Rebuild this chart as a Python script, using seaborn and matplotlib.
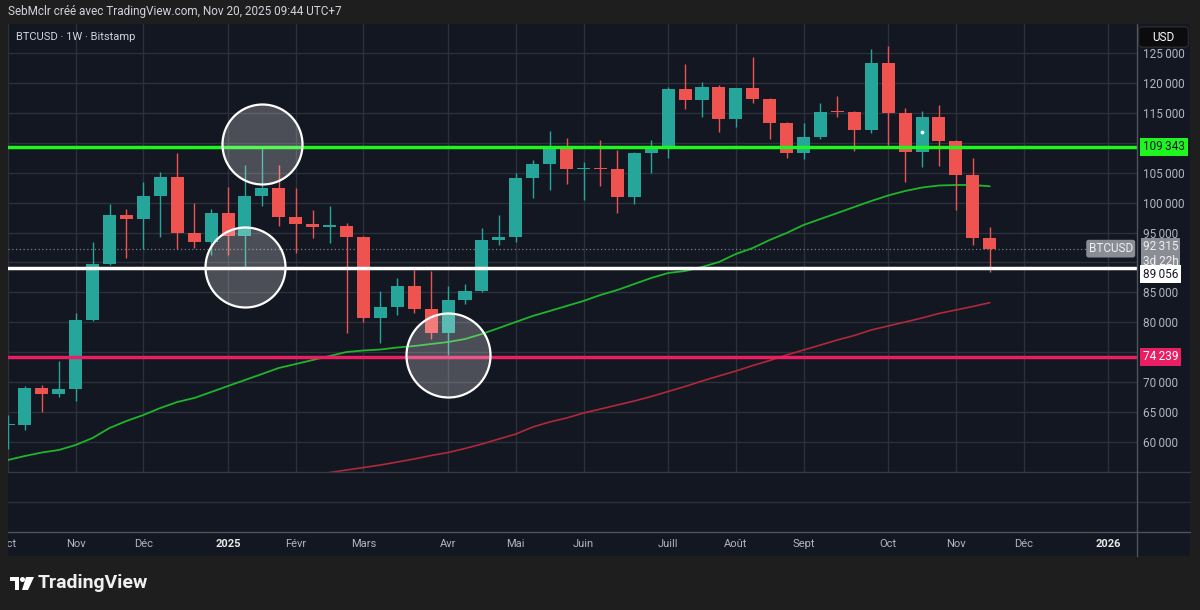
import matplotlib
matplotlib.use("Agg")
import matplotlib.pyplot as plt
import matplotlib.patches as mpatches
from matplotlib.lines import Line2D
import numpy as np
import pandas as pd
import seaborn as sns

# weekly BTCUSD candles (Bitstamp), first week = Mon 7 Oct 2024
opens = [62800, 62850, 68970, 67960, 68800, 80400, 89750, 97940, 97220, 101110,
         104340, 94985, 93480, 98330, 94430, 101170, 102400, 97650, 96430, 96000,
         96150, 94210, 80670, 82510, 86070, 82230, 78270, 83730, 85240, 93760,
         94320, 104070, 106410, 109090, 105580, 105740, 105560, 100990, 108250, 109250,
         118950, 117170, 119400, 114030, 119220, 117390, 113370, 108250, 111040, 115300,
         115150, 112140, 123400, 115040, 108520, 114370, 110360, 104620, 94150]
highs = [64500, 69400, 69500, 73600, 81560, 93480, 99730, 98900, 103500, 105070,
         108250, 99900, 98900, 102680, 106300, 109300, 106300, 102400, 98770, 99440,
         96540, 94500, 85240, 87360, 88750, 88580, 86070, 86410, 95820, 97940,
         104900, 107100, 111980, 110760, 106750, 110470, 108800, 108500, 110470, 119400,
         123130, 120220, 119670, 119220, 124400, 117560, 113540, 113260, 116700, 117830,
         115300, 125630, 126180, 115870, 115320, 116270, 110470, 107420, 95880]
lows = [58900, 62000, 65070, 67520, 66900, 80200, 89580, 90700, 92200, 94310,
        92200, 92370, 91250, 91250, 89300, 99440, 96100, 91540, 94140, 93300,
        78160, 80100, 76600, 81220, 81500, 77170, 74540, 83060, 85100, 92920,
        93400, 100730, 102120, 103070, 100450, 102790, 98220, 99730, 105010, 107420,
        115600, 114370, 111860, 112600, 116700, 110590, 107420, 107250, 110590, 114370,
        108640, 111590, 109640, 103500, 106010, 106180, 98770, 92920, 88460]
closes = [62850, 68970, 67960, 68800, 80400, 89750, 97940, 97220, 101110, 104340,
          94985, 93480, 98330, 94430, 101170, 102400, 97650, 96430, 96000, 96150,
          94210, 80670, 82510, 86070, 82230, 78270, 83730, 85240, 93760, 94320,
          104070, 106410, 109090, 105580, 105740, 105560, 100990, 108250, 109250, 118950,
          117170, 119400, 114030, 119220, 117390, 113370, 108250, 111040, 115200, 115150,
          112140, 123400, 115040, 108520, 114370, 110360, 104620, 94150, 92315]

# moving averages
green_ma = [56990, 57660, 58240, 58660, 59500, 60670, 62340, 63510, 64510, 65680,
            66680, 67350, 68350, 69360, 70360, 71360, 72370, 73030, 73700, 74370,
            75040, 75290, 75460, 75790, 76040, 76380, 76710, 77210, 78050, 79050,
            80060, 81060, 81890, 82730, 83570, 84570, 85400, 86410, 87410, 88240,
            88580, 89250, 90080, 91420, 92420, 93760, 94930, 96270, 97270, 98270,
            99280, 100280, 101200, 101950, 102530, 102870, 102950, 102950, 102740]
red_start = 19
red_ma = [54900, 55320, 55730, 56150, 56650, 57160, 57740, 58240, 58910, 59660,
          60500, 61330, 62500, 63340, 64010, 64840, 65510, 66180, 66850, 67600,
          68440, 69270, 70190, 71030, 71860, 72780, 73620, 74540, 75370, 76210,
          77050, 77800, 78720, 79390, 80060, 80720, 81480, 82060, 82650, 83280]

levels = [109343, 89056, 74239]
level_colors = ["#1ff51f", "#ffffff", "#e91e63"]
level_text = ["#131722", "#131722", "#ffffff"]
last_price = 92315

circles_x = [15, 14, 26]
circles_y = [109840, 89300, 74540]
circles_r = [40, 40, 42]

price_ticks = list(range(60000, 130000, 5000))
month_names = {1: "2025", 2: "Févr", 3: "Mars", 4: "Avr", 5: "Mai", 6: "Juin", 7: "Juill",
               8: "Août", 9: "Sept", 10: "Oct", 11: "Nov", 12: "Déc"}

sns.set_theme(style="dark")
plt.rcParams["font.family"] = ["Roboto", "DejaVu Sans"]

BG = "#131722"
GRID = "#2c303b"
TXT = "#b2b5be"
TEAL = "#26a69a"
RED = "#ef5350"
W, H = 1200, 610

fig = plt.figure(figsize=(12, 6.1), dpi=100)
fig.patch.set_facecolor("#1e1e1e")


def fr(x0, y0, x1, y1):
    return [x0 / W, 1 - y1 / H, (x1 - x0) / W, (y1 - y0) / H]


def fmt(v):
    return f"{v:,}".replace(",", "\u2009")


# panel background
fig.add_artist(mpatches.Rectangle((8 / W, 1 - 556 / H), (1190 - 8) / W, (556 - 24) / H,
                                  transform=fig.transFigure, facecolor=BG, edgecolor="none", zorder=0))

ax = fig.add_axes(fr(8, 24, 1137, 472))
ax.set_facecolor(BG)
ax.set_xlim(0.047, 66.7)
ax.set_ylim(54983, 129861)

# month gridlines
all_weeks = pd.date_range("2024-10-07", "2026-01-31", freq="W-MON")
month_idx = [i for i in range(len(all_weeks)) if i == 0 or all_weeks[i].month != all_weeks[i - 1].month]
month_lab = ["Oct" if all_weeks[i].year == 2024 and all_weeks[i].month == 10 else
             ("2026" if all_weeks[i].year == 2026 else month_names[all_weeks[i].month]) for i in month_idx]

# tick labels hidden behind the price tags
covered = levels + [last_price]
ax.set_xticks(month_idx)
ax.set_yticks(price_ticks)
ax.set_yticklabels(["" if min(abs(v - c) for c in covered) < 2500 else fmt(v) for v in price_ticks])
ax.yaxis.tick_right()
ax.tick_params(axis="y", length=0, pad=4.5, labelsize=8.5, labelcolor=TXT)
ax.tick_params(axis="x", length=0, labelbottom=False)
ax.grid(True, color=GRID, lw=1)
for s in ax.spines.values():
    s.set_visible(False)

# candles
df = pd.DataFrame({"week": np.arange(len(opens)), "open": opens, "high": highs,
                   "low": lows, "close": closes})
up = df["close"] >= df["open"]
cols = np.where(up, TEAL, RED)
ax.vlines(df["week"], df["low"], df["high"], colors=cols, lw=1, zorder=3)
body = np.maximum((df["close"] - df["open"]).abs(), 250)
ax.bar(df["week"], body, bottom=np.minimum(df["open"], df["close"]), width=0.77,
       color=cols, linewidth=0, zorder=3)
ax.scatter([54], [111850], s=3, color="white", zorder=4)

# moving averages
sns.lineplot(x=np.arange(len(green_ma)), y=green_ma, ax=ax, color="#1fb52b", lw=1.3, zorder=2)
sns.lineplot(x=np.arange(red_start, red_start + len(red_ma)), y=red_ma, ax=ax,
             color="#b0283a", lw=1.2, zorder=2)

# horizontal levels
ax.axhline(last_price, color="#787b86", ls=(0, (1, 2)), lw=0.9, zorder=1)
for lv, c in zip(levels, level_colors):
    ax.axhline(lv, color=c, lw=2.5, zorder=4)

# highlight circles
for cx, cy, r in zip(circles_x, circles_y, circles_r):
    ax.scatter([cx], [cy], s=(2 * r * 0.72) ** 2, facecolor=(1, 1, 1, 0.24),
               edgecolor="white", lw=1.6, zorder=6)

# price tags
offsets = [0, -4.3, 0]
for lv, c, tc, off in zip(levels, level_colors, level_text, offsets):
    ax.annotate(fmt(lv), xy=(1, lv), xycoords=("axes fraction", "data"),
                xytext=(4.3, off), textcoords="offset points", ha="left", va="center",
                fontsize=8.5, color=tc, annotation_clip=False, zorder=10,
                bbox=dict(boxstyle="square,pad=0.22", fc=c, ec="none"))
ax.annotate(fmt(last_price) + "\n3d 22h", xy=(1, last_price),
            xycoords=("axes fraction", "data"), xytext=(4.3, -3.8), textcoords="offset points",
            ha="left", va="center", fontsize=8.5, color="#f0f0f0", linespacing=1.15,
            annotation_clip=False, zorder=9,
            bbox=dict(boxstyle="square,pad=0.15", fc="#8a8d96", ec="none"))
ax.annotate("BTCUSD", xy=(1, last_price), xycoords=("axes fraction", "data"),
            xytext=(-3, 0), textcoords="offset points", ha="right", va="center",
            fontsize=8.5, color="#f0f0f0", annotation_clip=False, zorder=9,
            bbox=dict(boxstyle="round,pad=0.2", fc="#8a8d96", ec="none"))

# time axis
axt = fig.add_axes(fr(8, 532, 1137, 556))
axt.set_xlim(ax.get_xlim())
axt.set_ylim(0, 1)
axt.axis("off")
for i, lab in zip(month_idx, month_lab):
    bold = lab.isdigit()
    axt.text(i, 0.5, lab, ha="center", va="center", fontsize=8,
             color="#e8e8e8" if bold else TXT, fontweight="bold" if bold else "normal",
             clip_on=True)

# pane separators
for y, c in [(472, "#363a45"), (502, "#2c303b"), (532, "#50535c")]:
    fig.add_artist(Line2D([8 / W, 1190 / W], [1 - y / H, 1 - y / H], color=c, lw=1,
                          transform=fig.transFigure))
fig.add_artist(Line2D([1137 / W, 1137 / W], [1 - 24 / H, 1 - 556 / H], color="#50535c", lw=1,
                      transform=fig.transFigure))

# header texts
fig.text(8 / W, 1 - 12 / H, "SebMclr créé avec TradingView.com, Nov 20, 2025 09:44 UTC+7",
         ha="left", va="center", fontsize=8.5, color="#d1d4dc")
fig.text(16 / W, 1 - 37 / H, "BTCUSD · 1W · Bitstamp", ha="left", va="center",
         fontsize=8, color="#d1d4dc")
fig.add_artist(mpatches.FancyBboxPatch((1141 / W, 1 - 46 / H), 45 / W, 18 / H,
                                       boxstyle="round,pad=0.002,rounding_size=0.004",
                                       transform=fig.transFigure, fc="#0c0c0e", ec="#2a2a2e", lw=1))
fig.text(1163.5 / W, 1 - 37.5 / H, "USD", ha="center", va="center", fontsize=8.5, color="#ffffff")

# TradingView logo
fig.add_artist(mpatches.Polygon([(10 / W, 1 - 577 / H), (19 / W, 1 - 577 / H), (19 / W, 1 - 590 / H),
                                 (15 / W, 1 - 590 / H), (15 / W, 1 - 581 / H), (10 / W, 1 - 581 / H)],
                                closed=True, transform=fig.transFigure, fc="white", ec="none"))
fig.add_artist(mpatches.Ellipse((22.5 / W, 1 - 579.5 / H), 5 / W, 5 / H,
                                transform=fig.transFigure, fc="white", ec="none"))
fig.add_artist(mpatches.Polygon([(26 / W, 1 - 577 / H), (34 / W, 1 - 577 / H), (28 / W, 1 - 590 / H),
                                 (22 / W, 1 - 590 / H)],
                                closed=True, transform=fig.transFigure, fc="white", ec="none"))
fig.text(38 / W, 1 - 583 / H, "TradingView", ha="left", va="center", fontsize=14,
         fontweight="bold", color="#f0f0f0")

fig.savefig("out.png", dpi=100, facecolor=fig.get_facecolor())
